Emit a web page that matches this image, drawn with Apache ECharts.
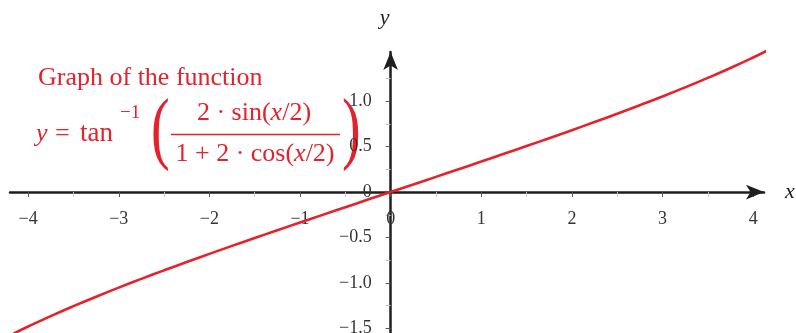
<!DOCTYPE html>
<html>
<head>
<meta charset="utf-8">
<script src="https://cdn.jsdelivr.net/npm/echarts@6/dist/echarts.min.js"></script>
<style>
  html, body { margin: 0; padding: 0; background: #fff; }
  #chart { width: 796px; height: 333px; }
</style>
</head>
<body>
<div id="chart"></div>
<script>
// Sample points of y = tan^-1( 2 sin(x/2) / (1 + 2 cos(x/2)) )
const xValues = [-4.16, -4, -3.75, -3.5, -3.25, -3, -2.75, -2.5, -2.25, -2, -1.75, -1.5, -1.25, -1, -0.75, -0.5, -0.25,
  0, 0.25, 0.5, 0.75, 1, 1.25, 1.5, 1.75, 2, 2.25, 2.5, 2.75, 3, 3.25, 3.5, 3.75, 4, 4.16];
const yValues = [-1.557, -1.479, -1.364, -1.255, -1.151, -1.051, -0.955, -0.861, -0.770, -0.680, -0.592, -0.506, -0.420, -0.335, -0.251, -0.167, -0.083,
  0, 0.083, 0.167, 0.251, 0.335, 0.420, 0.506, 0.592, 0.680, 0.770, 0.861, 0.955, 1.051, 1.151, 1.255, 1.364, 1.479, 1.557];

// Tick positions
const xMajorTicks = [-4, -3, -2, -1, 0, 1, 2, 3, 4];
const xMinorTicks = [-3.5, -2.5, -1.5, -0.5, 0.5, 1.5, 2.5, 3.5];
const yMajorTicks = [-1.5, -1, -0.5, 0, 0.5, 1];
const yMinorTicks = [-1.25, -0.75, -0.25, 0.25, 0.75, 1.25];

const RED = '#e5222b';
const AXIS = '#1e1e1e';
const SERIF = '"Liberation Serif", "DejaVu Serif", serif';

function fmtX(v) { return v < 0 ? '\u2212' + Math.abs(v) : String(v); }
function fmtY(v) {
  if (v === 0) return '0';
  const s = Math.abs(v).toFixed(1);
  return v < 0 ? '\u2212' + s : s;
}

const W = 796, H = 333;
const xMin = -4.2, xMax = 4.12, yMin = -1.55, yMax = 1.54;
const G = { left: 10, right: 32, top: 52, bottom: 0 };
const gridW = W - G.left - G.right;
const gridH = H - G.top - G.bottom;
// Shift each axis from the grid edge so that it crosses the other axis at zero
const xAxisOffset = -gridH * (0 - yMin) / (yMax - yMin);
const yAxisOffset = -gridW * (0 - xMin) / (xMax - xMin);

const chart = echarts.init(document.getElementById('chart'));

chart.setOption({
  animation: false,
  grid: { left: G.left, right: G.right, top: G.top, bottom: G.bottom, containLabel: false, outerBoundsMode: 'none' },
  xAxis: [
    {
      type: 'value', min: xMin, max: xMax, position: 'bottom', offset: xAxisOffset,
      name: 'x', nameLocation: 'end', nameGap: 21,
      nameTextStyle: { fontFamily: SERIF, fontStyle: 'italic', fontSize: 22, color: '#222', verticalAlign: 'middle', padding: [0, 0, 4, 0] },
      axisLine: { show: true, onZero: false, lineStyle: { color: AXIS, width: 2.5 }, symbol: ['none', 'arrow'], symbolSize: [11, 18] },
      axisTick: { show: true, length: 5, customValues: xMajorTicks, lineStyle: { color: '#555', width: 1 } },
      axisLabel: { show: true, customValues: xMajorTicks, formatter: fmtX, margin: 18, fontFamily: SERIF, fontSize: 18, color: '#333' },
      splitLine: { show: false }
    },
    {
      type: 'value', min: xMin, max: xMax, position: 'bottom', offset: xAxisOffset,
      axisLine: { show: false, onZero: false },
      axisTick: { show: true, length: 5, customValues: xMinorTicks, lineStyle: { color: '#c4c4c4', width: 1 } },
      axisLabel: { show: false },
      splitLine: { show: false }
    }
  ],
  yAxis: [
    {
      type: 'value', min: yMin, max: yMax, position: 'left', offset: yAxisOffset,
      name: 'y', nameLocation: 'end', nameGap: 23,
      nameTextStyle: { fontFamily: SERIF, fontStyle: 'italic', fontSize: 22, color: '#222', padding: [0, 12, 0, 0] },
      axisLine: { show: true, onZero: false, lineStyle: { color: AXIS, width: 2.5 }, symbol: ['none', 'arrow'], symbolSize: [11, 18] },
      axisTick: { show: true, length: 5, customValues: yMajorTicks, lineStyle: { color: '#555', width: 1 } },
      axisLabel: { show: true, customValues: yMajorTicks, formatter: fmtY, margin: 19, fontFamily: SERIF, fontSize: 18, color: '#333' },
      splitLine: { show: false }
    },
    {
      type: 'value', min: yMin, max: yMax, position: 'left', offset: yAxisOffset,
      axisLine: { show: false, onZero: false },
      axisTick: { show: true, length: 5, customValues: yMinorTicks, lineStyle: { color: '#c4c4c4', width: 1 } },
      axisLabel: { show: false },
      splitLine: { show: false }
    }
  ],
  series: [{
    type: 'line',
    xAxisIndex: 0, yAxisIndex: 0,
    data: xValues.map((x, i) => [x, yValues[i]]),
    smooth: true,
    showSymbol: false,
    clip: false,
    lineStyle: { color: RED, width: 2.6 },
    z: 5
  }],
  graphic: [
    { type: 'text', left: 38, top: 65, style: { text: 'Graph of the function', fill: RED, font: '26px ' + SERIF } },
    { type: 'text', x: 36, y: 134, style: { text: 'y', fill: RED, font: 'italic 26px ' + SERIF, verticalAlign: 'middle' } },
    { type: 'text', x: 55, y: 134, style: { text: '=', fill: RED, font: '26px ' + SERIF, verticalAlign: 'middle' } },
    { type: 'text', x: 80, y: 134, style: { text: 'tan', fill: RED, font: '27px ' + SERIF, verticalAlign: 'middle' } },
    { type: 'text', x: 120, y: 113, style: { text: '\u22121', fill: RED, font: '19px ' + SERIF, verticalAlign: 'middle' } },
    { type: 'text', x: 151, y: 133, scaleX: 0.7, style: { text: '(', fill: RED, font: '80px ' + SERIF, verticalAlign: 'middle' } },
    {
      type: 'text', x: 254, y: 113,
      style: {
        text: '{n|2 · sin(}{i|x}{n|/2)}', align: 'center', verticalAlign: 'middle',
        rich: {
          n: { fill: RED, fontFamily: SERIF, fontSize: 26 },
          i: { fill: RED, fontFamily: SERIF, fontSize: 26, fontStyle: 'italic' }
        }
      }
    },
    { type: 'line', shape: { x1: 171, y1: 134.5, x2: 340, y2: 134.5 }, style: { stroke: RED, lineWidth: 1.4 } },
    {
      type: 'text', x: 255, y: 154,
      style: {
        text: '{n|1 + 2 · cos(}{i|x}{n|/2)}', align: 'center', verticalAlign: 'middle',
        rich: {
          n: { fill: RED, fontFamily: SERIF, fontSize: 26 },
          i: { fill: RED, fontFamily: SERIF, fontSize: 26, fontStyle: 'italic' }
        }
      }
    },
    { type: 'text', x: 342, y: 133, scaleX: 0.7, style: { text: ')', fill: RED, font: '80px ' + SERIF, verticalAlign: 'middle' } }
  ]
});
</script>
</body>
</html>
